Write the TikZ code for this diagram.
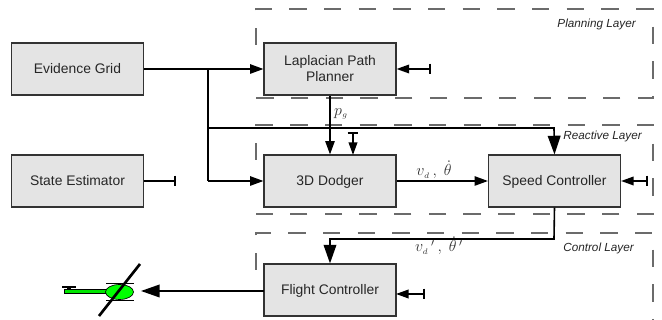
\documentclass[tikz,border=0pt]{standalone}
\usepackage{fontspec}
\setmainfont{Liberation Sans}
\usetikzlibrary{arrows.meta,calc}
\definecolor{boxfill}{gray}{0.895}
\definecolor{dashc}{gray}{0.42}
\newcommand{\lowtext}[1]{\raisebox{-3.1pt}[0pt][0pt]{#1}}
\tikzset{
  blockbox/.style={draw=black!80,line width=0.85pt,fill=boxfill,minimum width=99pt,minimum height=39pt,inner sep=0pt,align=center,font=\fontsize{10.4}{12}\selectfont,text=black!85},
  layer/.style={draw=dashc,line width=0.8pt,dash pattern=on 13pt off 13pt},
  layerlabel/.style={font=\fontsize{8.8}{10}\selectfont\itshape,text=black!85,inner sep=0pt},
  sig/.style={draw=black,line width=1.2pt},
  flow/.style={sig,-{Triangle[length=10pt,width=7pt]}},
  bigflow/.style={sig,-{Triangle[length=14pt,width=9.5pt]}},
  inhibit/.style={sig,{Bar[width=8pt,line width=1.2pt]}-{Triangle[length=9.5pt,width=6.5pt]}},
  barend/.style={sig,-{Bar[width=8pt,line width=1.2pt]}},
  mathlabel/.style={font=\fontsize{11.5}{13}\selectfont,text=black!80,inner sep=0pt}
}
\begin{document}
\begin{tikzpicture}[x=0.75pt,y=-0.75pt]
\useasboundingbox (0,0) rectangle (662,320);
% layers
\draw[layer] (256,45) -- (256,9) -- (653,9) -- (653,98) -- (256,98);
\draw[layer] (256,160) -- (256,125) -- (653,125) -- (653,214) -- (256,214);
\draw[layer] (256,270) -- (256,233) -- (653,233) -- (653,320);
\node[layerlabel,anchor=east] (pl) at (636,24) {Planning Layer};
\node[layerlabel,anchor=east] (rl) at (642,136) {Reactive Layer};
\node[layerlabel,anchor=east] (cl) at (634,248) {Control Layer};
% blocks
\node[blockbox] (eg) at (77.5,69) {\lowtext{Evidence Grid}};
\node[blockbox] (se) at (77.5,181) {\lowtext{State Estimator}};
\node[blockbox] (lp) at (330,69) {Laplacian Path\\Planner};
\node[blockbox] (dd) at (330,181) {\lowtext{3D Dodger}};
\node[blockbox] (sc) at (554.5,181) {\lowtext{Speed Controller}};
\node[blockbox] (fc) at (330,290) {\lowtext{Flight Controller}};
% free ends
\coordinate (j1) at (208,69);
\coordinate (j2) at (208,128);
\coordinate (j3) at (208,181);
\coordinate (c1) at (554,128);
\coordinate (c2) at (554,239);
\coordinate (c3) at (330,239);
\coordinate (t1) at (353,132);
\coordinate (t1e) at (353,155);
\coordinate (t2) at (176,181);
\coordinate (t3) at (431,69);
\coordinate (t4) at (648,181);
\coordinate (t5) at (425,294);
\coordinate (t5e) at (396,294);
\coordinate (f1) at (264,291);
\coordinate (h1) at (141,291);
% connectors
\draw[flow] (eg.east) -- (lp.west);
\draw[sig] (j1) -- (j3);
\draw[flow] (j3) -- (dd.west);
\draw[bigflow] (j2) -- (c1) -- (sc.north);
\draw[flow] (lp.south) -- (dd.north);
\draw[inhibit] (t1) -- (t1e);
\draw[barend] (se.east) -- (t2);
\draw[inhibit] (t3) -- (lp.east);
\draw[flow] (dd.east) -- (sc.west);
\draw[inhibit] (t4) -- (sc.east);
\draw[bigflow] (sc.south) -- (c2) -- (c3) -- (fc.north);
\draw[inhibit] (t5) -- (t5e);
\draw[bigflow] (f1) -- (h1);
% labels
\node[mathlabel] (lpg) at (341,114) {$p_{\scriptscriptstyle g}$};
\node[mathlabel] (lvd) at (434,170) {$v_{\scriptscriptstyle d}\,,\ \dot\theta$};
\node[mathlabel] (lvp) at (439,246) {$v_{\scriptscriptstyle d}\,'\,,\ \dot\theta\,'$};
% helicopter
\fill[green!90!black,draw=black,line width=0.5pt] (64.5,289.5) rectangle (106,293);
\fill[black] (62,286) rectangle (76,288);
\fill[black] (67,288) rectangle (71,290);
\draw[black,line width=0.7pt] (106,283) -- (134,283);
\draw[black,line width=0.7pt] (106,300) -- (134,300);
\draw[black,line width=0.5pt,fill=green] (119.5,292) ellipse [x radius=14,y radius=7.5];
\draw[black,line width=2pt] (140,264) -- (99,316);
\end{tikzpicture}
\end{document}
